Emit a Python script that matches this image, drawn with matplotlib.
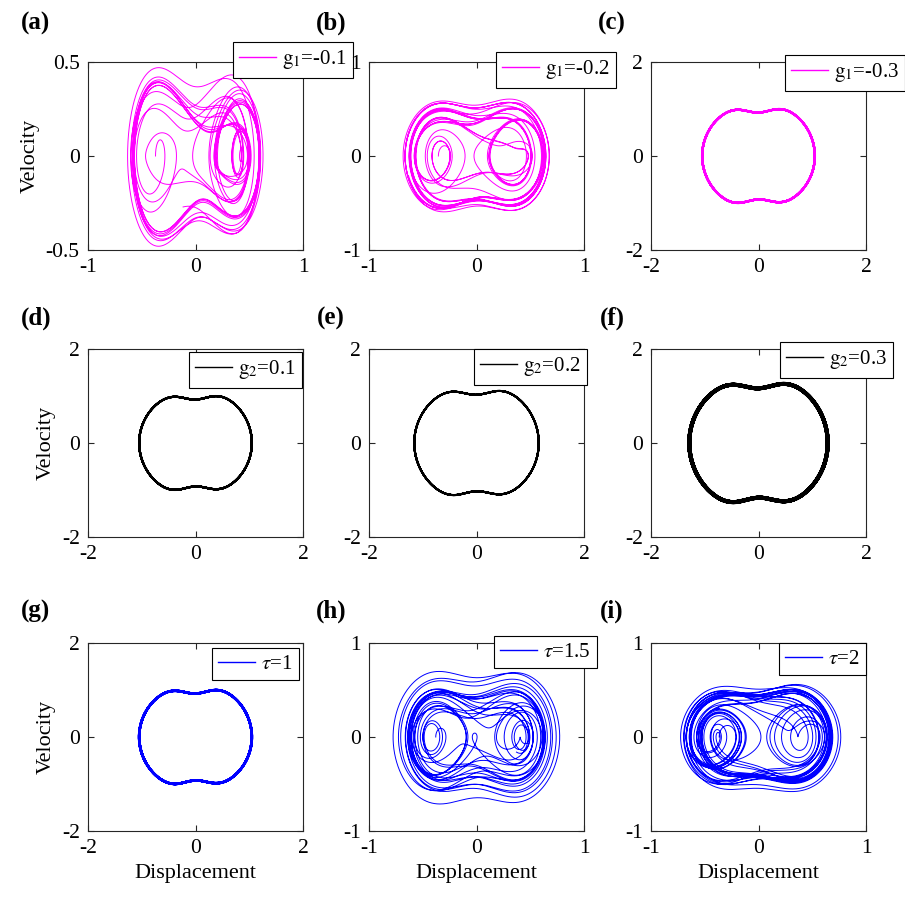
import numpy as np
import matplotlib
matplotlib.use("Agg")
import matplotlib.pyplot as plt

plt.rcParams['font.family'] = ['Liberation Serif', 'DejaVu Serif']
plt.rcParams['mathtext.fontset'] = 'stix'

# ---- chart content ----
panel_labels = ['(a)', '(b)', '(c)', '(d)', '(e)', '(f)', '(g)', '(h)', '(i)']
legend_labels = [r'$\mathrm{g}_1$=-0.1', r'$\mathrm{g}_1$=-0.2', r'$\mathrm{g}_1$=-0.3',
                 r'$\mathrm{g}_2$=0.1', r'$\mathrm{g}_2$=0.2', r'$\mathrm{g}_2$=0.3',
                 r'$\tau$=1', r'$\tau$=1.5', r'$\tau$=2']
line_colors = ['#ff00ff'] * 3 + ['#000000'] * 3 + ['#0000ff'] * 3
y_limits = [0.5, 1, 2, 2, 2, 2, 2, 1, 1]
x_limits = [1, 1, 2, 2, 2, 2, 2, 1, 1]
# half-extent of each trajectory (displacement, velocity)
x_extent = [0.63, 0.68, 1.05, 1.05, 1.16, 1.29, 1.05, 0.775, 0.745]
v_extent = [0.475, 0.60, 1.00, 1.00, 1.11, 1.26, 1.00, 0.705, 0.57]
# settings of the bistable oscillator used to trace each portrait
damping = [0.2, 0.2, 0.2, 0.2, 0.2, 0.2, 0.2, 0.1, 0.2]
forcing = [0.15, 0.2, 0.35, 0.35, 0.35, 0.35, 0.35, 0.15, 0.3]
frequency = [1.0, 1.0, 1.0, 1.0, 1.0, 1.0, 1.0, 1.0, 1.2]
well_pos = [0.4, 0.4, 0.6, 0.6, 0.6, 0.6, 0.6, 0.4, 0.4]
well_width = [0.3, 0.3, 0.4, 0.4, 0.4, 0.4, 0.4, 0.3, 0.3]
start_x = [-0.4, -0.4, 1.6, 1.6, 1.6, 1.6, 1.6, -0.4, -0.4]
periodic = [False, False, True, True, True, True, True, False, False]

# ---- layout (pixels of the 905x900 reference) ----
col_left = [88, 369, 651]
col_width = 215
row_top = [62, 349, 643]
row_height = 188
label_xy = [(36, 23), (331, 23), (612, 23), (36, 318), (331, 318), (612, 318),
            (36, 611), (331, 611), (612, 611)]
legend_box = [(233, 42), (496, 52), (785, 55), (189, 352), (474, 349), (780, 342),
              (212, 648), (494, 636), (779, 643)]   # (left, top) px
line_widths = [0.7, 0.7, 1.6, 1.5, 1.4, 2.8, 1.8, 0.7, 0.7]

W, H = 905, 900


def simulate(d, F, w, well, sig, x0, T=200.0, dt=0.01):
    h = sig ** 2 * np.exp(well ** 2 / (2 * sig ** 2))
    n = int(T / dt)
    xs = np.empty(n)
    vs = np.empty(n)
    x, v, t = x0, 0.0, 0.0

    def f(t, x, v):
        return v, (-d * v - x + (h / sig ** 2) * x * np.exp(-x ** 2 / (2 * sig ** 2))
                   + F * np.cos(w * t))

    for i in range(n):
        xs[i] = x
        vs[i] = v
        k1x, k1v = f(t, x, v)
        k2x, k2v = f(t + dt / 2, x + dt / 2 * k1x, v + dt / 2 * k1v)
        k3x, k3v = f(t + dt / 2, x + dt / 2 * k2x, v + dt / 2 * k2v)
        k4x, k4v = f(t + dt, x + dt * k3x, v + dt * k3v)
        x = x + dt / 6 * (k1x + 2 * k2x + 2 * k3x + k4x)
        v = v + dt / 6 * (k1v + 2 * k2v + 2 * k3v + k4v)
        t += dt
    return xs, vs


cache = {}
fig = plt.figure(figsize=(W / 100, H / 100), dpi=100)
for k in range(9):
    r, c = divmod(k, 3)
    ax = fig.add_axes([col_left[c] / W, 1 - (row_top[r] + row_height) / H,
                       col_width / W, row_height / H])
    key = (damping[k], forcing[k], frequency[k], well_pos[k], well_width[k], start_x[k])
    if key not in cache:
        cache[key] = simulate(*key)
    xs, vs = cache[key]
    if periodic[k]:
        xs, vs = xs[-4000:], vs[-4000:]
    xs = xs * x_extent[k] / ((xs.max() - xs.min()) / 2)
    vs = vs * v_extent[k] / ((vs.max() - vs.min()) / 2)
    ax.plot(xs, vs, color=line_colors[k], lw=line_widths[k], label=legend_labels[k])
    ax.set_xlim(-x_limits[k], x_limits[k])
    ax.set_ylim(-y_limits[k], y_limits[k])
    ax.set_xticks([-x_limits[k], 0, x_limits[k]])
    ax.set_yticks([-y_limits[k], 0, y_limits[k]])
    ax.set_xticklabels([f'{t:g}' for t in ax.get_xticks()])
    ax.set_yticklabels([f'{t:g}' for t in ax.get_yticks()])
    ax.tick_params(direction='in', top=True, right=True, length=4, width=0.8,
                   labelsize=15.5, pad=6, colors='#262626', labelcolor='black')
    for s in ax.spines.values():
        s.set_linewidth(0.8)
        s.set_color('#262626')
    if c == 0:
        ax.set_ylabel('Velocity', fontsize=16, labelpad=4)
    if r == 2:
        ax.set_xlabel('Displacement', fontsize=16, labelpad=4)
    lx, ly = legend_box[k]
    leg = ax.legend(loc='upper left', bbox_to_anchor=(lx / W, 1 - ly / H),
                    bbox_transform=fig.transFigure, fontsize=15, frameon=True,
                    fancybox=False, framealpha=1, edgecolor='black',
                    handlelength=1.75, handletextpad=0.3, borderpad=0.3,
                    borderaxespad=0)
    leg.get_frame().set_linewidth(0.8)
    for hl in leg.get_lines():
        hl.set_linewidth(1.0)
    fig.text(label_xy[k][0] / W, 1 - label_xy[k][1] / H, panel_labels[k],
             fontsize=18, fontweight='bold', ha='center', va='center')

fig.savefig('out.png', dpi=100)
